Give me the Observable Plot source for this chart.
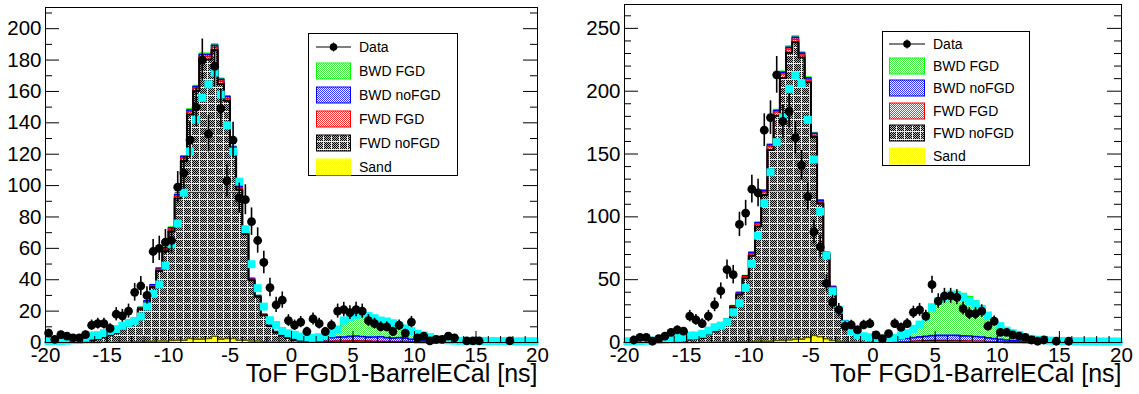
<!DOCTYPE html>
<html><head><meta charset="utf-8">
<script src="https://cdn.jsdelivr.net/npm/d3@7"></script>
<script src="https://cdn.jsdelivr.net/npm/@observablehq/plot@0.6"></script>
<style>
body{margin:0;background:#fff;font-family:"Liberation Sans",Arial,Helvetica,sans-serif;}
#wrap{position:relative;width:1139px;height:394px;overflow:hidden;background:#fff;}
.panel{position:absolute;top:0;}
.legend{position:absolute;border:1px solid #000;background:#fff;box-sizing:border-box;}
.entry{position:absolute;left:0;height:18px;font-size:14px;white-space:nowrap;color:#000;}
.entry svg{position:absolute;top:0;}
.entry span{position:absolute;top:0;line-height:18px;}
</style></head><body>
<svg width="0" height="0" style="position:absolute;left:0;top:0"><defs id="defs"></defs></svg>
<div id="wrap"></div>
<script>
// ---------------- data ----------------
const binCenters = d3.range(-19.75, 20, 0.5);
const binEdges = d3.range(-20, 20.001, 0.5);
const xMajorTicks = [-20,-15,-10,-5,0,5,10,15,20];
const xMinorTicks = d3.range(-20, 21, 1);
const seriesNames = ["Data","BWD FGD","BWD noFGD","FWD FGD","FWD noFGD","Sand"];
const axisTitle = "ToF FGD1-BarrelECal [ns]";

// Left panel
const leftYTicks = [0,20,40,60,80,100,120,140,160,180,200];
const leftYMinor = [10,30,50,70,90,110,130,150,170,190,210];
const leftData = [6,2,5,4,3,3,5,11,12,12, 9,18,17,20,32,36,30,58,60,64,
  65,99,108,129,150,180,133,176,149,103, 129,92,91,77,65,51,35,24,27,14,
  11,13,7,15,12,7,11,20,21,19, 21,20,14,12,10,10,7,11,6,13,
  3,4,1,2,2,4,3,0,1,1, 1,0,0,0,0,1,0,0,0,0];
const leftCyan = [1,1,1,1.2,1.5,2,3,4.5,4.7,6, 7.4,8.5,10.6,12.5,13.8,16.6,23,31,37,49,
  62.6,75.8,95.5,121.7,142,156,164.5,172,158,138.4, 121.7,102.5,72.2,49.9,34.6,22.9,14.2,11.2,7.4,5.9,
  4.9,3.8,3.4,3,3.4,4.5,6,8.3,14,16, 17.6,18.6,17,15.5,14,13.4,12.3,10.6,9,7.2,
  5.5,4.5,3.4,2.3,1.7,1.4,1.2,1.1,1,1, 1,1,0.9,0.9,0.9,0.9,0.8,0.8,0.8,0.8];
const leftSand = [0,0,0,0,0,0,0,0,0,0.1, 0.2,0.2,0.3,0.3,0.5,0.5,0.6,0.8,1,1,
  1.2,1.5,1.5,2.5,2,2,2.5,4,2,2.5, 2.5,1.5,1.5,1,1,0.5,0.3,0.2,0.2,0.2,
  0.1,0.1,0.1,0.1,0.2,0.2,0.2,0.3,0.3,0.3, 0.3,0.3,0.2,0.2,0.2,0.2,0.2,0.2,0.3,0.2,
  0.1,0.1,0,0,0,0,0,0,0,0, 0,0,0,0,0,0,0,0,0,0];
const leftFwdNoFGD = [0,0,0,0,0,0.2,0.5,1.3,2.2,3.1, 4.4,5.8,8.1,10.4,14.2,20.7,24.7,34.4,44.6,57.2,
  69.6,90.3,114.2,142.8,158.3,178.3,177.8,182.2,162.7,151.5, 119.4,95.9,67.6,38.7,28.1,16.8,10.1,6.2,4.2,2.6,
  1.5,0.8,0.5,0.4,0.3,0.3,0.3,0.2,0.2,0.2, 0.2,0.2,0.2,0.1,0.1,0.1,0.1,0.1,0.1,0.1,
  0,0,0,0,0,0,0,0,0,0, 0,0,0,0,0,0,0,0,0,0];
const leftFwdFGD = [0,0,0,0,0,0,0.1,0.1,0.2,0.2, 0.2,0.3,0.3,0.4,0.5,0.6,0.7,0.9,1,1.3,
  1.5,1.6,1.8,1.8,1.8,2,2,2,1.9,1.6, 1.4,1.2,1,0.6,0.4,0.3,0.2,0.2,0.1,0.1,
  0.1,0.1,0.1,0.1,0.1,0.2,0.3,0.4,0.5,0.6, 0.6,0.5,0.5,0.4,0.4,0.3,0.3,0.3,0.2,0.2,
  0.2,0.1,0.1,0,0,0,0,0,0,0, 0,0,0,0,0,0,0,0,0,0];
const leftBwdNoFGD = [0,0,0,0,0,0,0,0.1,0.1,0.1, 0.2,0.2,0.2,0.3,0.4,0.5,0.6,0.6,0.7,0.8,
  0.8,0.8,1,1.1,1,1.2,1.2,1.2,1.2,1.2, 1.2,1,0.6,0.5,0.4,0.3,0.3,0.3,0.4,0.5,
  0.6,0.8,1,1.2,1.5,2,2.2,2.5,2.5,2.8, 3,2.8,2.5,2.8,3,2.5,2.2,2.5,2.2,1.5,
  1.4,1.2,0.8,0.6,0.4,0.3,0.2,0.1,0,0, 0,0,0,0,0,0,0,0,0,0];
const leftBwdFGD = [0,0,0,0,0,0,0,0,0,0, 0,0,0.1,0.1,0.1,0.2,0.2,0.3,0.3,0.4,
  0.4,0.5,0.5,0.6,0.6,0.8,0.8,0.8,0.6,0.5, 0.5,0.4,0.3,0.2,0.1,0.1,0.1,0.1,0.1,0.1,
  0.2,0.4,0.5,1,1.4,2.3,3.5,5.6,10.5,12.1, 12.9,13.2,12.1,10,8.3,8.4,7.2,5.4,4.2,3.5,
  2.8,2.1,1.6,1.4,1.1,0.7,0.6,0.5,0.5,0.4, 0.4,0.3,0.2,0.2,0.2,0.2,0.1,0.1,0.1,0.1];
const leftHalfMax = {y: 95.7, x1: -9.45, x2: -4.15};

// Right panel
const rightYTicks = [0,50,100,150,200,250];
const rightYMinor = [10,20,30,40,60,70,80,90,110,120,130,140,160,170,180,190,210,220,230,240,260];
const rightData = [0,2,4,4,1,3,5,8,10,9, 21,18,15,21,30,41,58,54,94,103,
  122,119,169,179,213,176,184,163,141,116, 88,76,47,32,26,13,14,10,14,15,
  6,3,7,15,12,15,24,26,21,46, 33,37,37,36,27,23,23,25,13,17,
  8,8,6,5,4,2,1,2,0,1, 0,1,0,0,0,0,0,0,0,0];
const rightCyan = [1,1,1.2,1.4,1.6,2,2.5,3,3.7,4.2, 5.6,5.6,6.9,9.5,12.2,13.5,16.2,24,31.3,43.5,
  62.6,85,110.9,135.5,159.4,179.3,201.9,212.5,206.4,177.2, 145.6,104.2,69.2,40.8,26,14.5,9,6,5,4.2,
  3.5,2.9,2.9,3.7,5.6,7.4,10.9,14.3,20.2,28.1, 32.9,36.1,38.2,37.4,36.1,32.9,30.3,26.8,21.5,16.2,
  13,9.5,7.4,6.1,4.2,2.9,2.2,1.8,1.5,1.3, 1.2,1.1,1,1,0.9,0.9,0.8,0.8,0.8,0.8];
const rightSand = [0,0,0,0,0,0,0,0,0,0, 0,0,0.1,0.2,0.3,0.3,0.4,0.5,0.6,0.7,
  0.8,0.9,1,1,1.5,1.5,2,2.5,2.5,4, 5.5,4.5,3,1.5,1,0.6,0.4,0.3,0.2,0.2,
  0.2,0.2,0.2,0.2,0.3,0.3,0.4,0.5,0.6,0.7, 0.8,0.8,0.8,0.8,0.7,0.6,0.5,0.5,0.4,0.3,
  0.3,0.2,0.2,0.1,0.1,0,0,0,0,0, 0,0,0,0,0,0,0,0,0,0];
const rightFwdNoFGD = [0,0,0,0,0,0.3,0.6,0.8,1.3,1.8, 2.3,2.8,3.5,6.1,8.4,12.7,17.2,27.4,37.4,50.2,
  68.2,91.4,116.3,152.3,178.9,209,228.6,236.4,224.3,203.2, 158,106.2,66.9,41.7,23.2,15.6,9,4.9,3.3,2,
  0.9,0.3,0.1,0.1,0.1,0.1,0.2,0.3,0.3,0.4, 0.2,0.2,0.1,0,0,0,0,0,0,0,
  0,0,0,0,0,0,0,0,0,0, 0,0,0,0,0,0,0,0,0,0];
const rightFwdFGD = [0,0,0,0,0,0,0,0.1,0.1,0.1, 0.1,0.1,0.2,0.3,0.4,0.5,0.6,0.8,1,1.3,
  1.6,2,2.5,2.8,3,3.2,3,2.5,2,1.8, 1.5,1.2,0.8,0.6,0.4,0.3,0.2,0.2,0.1,0.1,
  0.1,0.1,0.1,0.1,0.2,0.2,0.3,0.4,0.5,0.6, 0.7,0.7,0.7,0.7,0.6,0.6,0.5,0.4,0.3,0.3,
  0.2,0.2,0.1,0.1,0,0,0,0,0,0, 0,0,0,0,0,0,0,0,0,0];
const rightBwdNoFGD = [0,0,0,0,0,0,0,0.1,0.1,0.1, 0.1,0.1,0.2,0.2,0.3,0.4,0.5,0.6,0.7,0.8,
  0.9,1,1.1,1.2,1.2,1.3,1.4,1.5,1.5,1.6, 1.5,1.2,0.9,0.7,0.6,0.7,0.8,1,1.2,1.4,
  1.6,1.6,1.8,2,2.3,2.6,3,3.3,3.5,3.8, 4,4,4.2,4.2,4,4,3.8,3.5,3,2.5,
  2,1.6,1.2,1,0.7,0.5,0.4,0.3,0.2,0.2, 0.1,0.1,0.1,0.1,0,0,0,0,0,0];
const rightBwdFGD = [0,0,0,0,0,0,0,0,0,0, 0,0,0,0.1,0.1,0.1,0.2,0.2,0.3,0.3,
  0.4,0.5,0.6,0.7,0.8,0.8,1,1,0.8,0.6, 0.5,0.4,0.3,0.3,0.3,0.3,0.5,0.6,0.7,0.8,
  1,1.1,1.1,1.6,2.7,4.2,7,9.8,15.3,22.6, 27.2,30.4,33.2,34.8,33.7,31.3,28.2,23.6,18.3,13.4,
  10.5,7.5,6,4.8,3.7,2.5,1.8,1.5,1.2,1, 0.9,0.7,0.5,0.4,0.4,0.3,0.2,0.2,0.1,0.1];
const rightHalfMax = {y: 120.8, x1: -9.0, x2: -4.5};

// ---------------- fill patterns (ROOT-like dotted hatches) ----------------
const defs = d3.select("#defs");
function checkerPattern(id, color, bg, size, gridColor){
  const p = defs.append("pattern").attr("id", id).attr("patternUnits","userSpaceOnUse")
    .attr("width", size).attr("height", size);
  p.append("rect").attr("width", size).attr("height", size).attr("fill", bg);
  const n = gridColor ? size - 1 : size;
  for (let i = 0; i < n; i++) for (let j = 0; j < n; j++)
    if ((i + j) % 2 === 0) p.append("rect").attr("x", i).attr("y", j).attr("width",1).attr("height",1).attr("fill", color);
  if (gridColor){
    p.append("rect").attr("x", size-1).attr("y",0).attr("width",1).attr("height",size).attr("fill",gridColor);
    p.append("rect").attr("x", 0).attr("y",size-1).attr("width",size).attr("height",1).attr("fill",gridColor);
  }
}
checkerPattern("pK", "#000000", "#b4b4b4", 8, "#eeeeee");
checkerPattern("pG", "#44f044", "#ffffff", 4, null);
checkerPattern("pB", "#3030ff", "#ffffff", 4, null);
checkerPattern("pR", "#ff3030", "#ffffff", 4, null);
checkerPattern("pY", "#ffff00", "#ffffff", 4, null);

const layerStyles = [ // bottom -> top of the stack
  {pat:"pY", stroke:"#5a5a00", w:1.5},
  {pat:"pK", stroke:"#000000", w:2},
  {pat:"pR", stroke:"#ff0000", w:1.6},
  {pat:"pB", stroke:"#0000ff", w:1.6},
  {pat:"pG", stroke:"#00ff00", w:1.6}
];
const legendStyles = [null, {pat:"pG", stroke:"#00ff00"}, {pat:"pB", stroke:"#0000ff"},
  {pat:"pR", stroke:"#ff0000"}, {pat:"pK", stroke:"#000000"}, {pat:"pY", stroke:"#ffff00"}];

function drawPanel(cfg){
  const layers = [cfg.sand, cfg.fwdNo, cfg.fwdFGD, cfg.bwdNo, cfg.bwdFGD];
  const cums = [];
  let acc = binCenters.map(() => 0);
  for (const a of layers){ acc = acc.map((v,i) => v + a[i]); cums.push(acc); }
  const stepRows = arr => binEdges.map((x,i) => ({x, y: arr[Math.min(i, arr.length-1)]}));
  const innerW = cfg.width - cfg.mL - cfg.mR;
  const innerH = cfg.height - cfg.mT - cfg.mB;
  const marks = [];
  for (let k = 4; k >= 0; k--)
    marks.push(Plot.areaY(stepRows(cums[k]), {x:"x", y:"y", curve:"step-after", fill:`url(#${layerStyles[k].pat})`}));
  marks.push(Plot.ruleY([cfg.half], {y:"y", x1:"x1", x2:"x2", stroke:"#333", strokeWidth:1}));
  for (let k = 4; k >= 0; k--)
    marks.push(Plot.lineY(stepRows(cums[k]), {x:"x", y:"y", curve:"step-after", stroke:layerStyles[k].stroke, strokeWidth:layerStyles[k].w}));
  const cyanRows = binCenters.map((x,i) => ({x, y: cfg.cyan[i]}));
  marks.push(Plot.dot(cyanRows, {x:"x", y:"y", symbol:"square", r:4.5, fill:"#00ffff", stroke:"none"}));
  const dataRows = binCenters.map((x,i) => ({x, y: cfg.data[i]})).filter(d => d.y > 0);
  marks.push(Plot.ruleX(dataRows, {x:"x", y1: d => d.y - Math.sqrt(d.y), y2: d => d.y + Math.sqrt(d.y), stroke:"#000", strokeWidth:1.6}));
  marks.push(Plot.dot(dataRows, {x:"x", y:"y", r:4.4, fill:"#000", stroke:"none"}));
  // inward ticks (ROOT style)
  marks.push(Plot.tickX(xMajorTicks, {x: d => d, insetTop: innerH - 11, stroke:"#000"}));
  marks.push(Plot.tickX(xMinorTicks, {x: d => d, insetTop: innerH - 6, stroke:"#000"}));
  marks.push(Plot.tickY(cfg.yTicks, {y: d => d, insetRight: innerW - 14, stroke:"#000"}));
  marks.push(Plot.tickY(cfg.yMinor, {y: d => d, insetRight: innerW - 7, stroke:"#000"}));
  marks.push(Plot.tickY(cfg.yTicks, {y: d => d, insetLeft: innerW - 14, stroke:"#000"}));
  marks.push(Plot.tickY(cfg.yMinor, {y: d => d, insetLeft: innerW - 7, stroke:"#000"}));
  marks.push(Plot.axisX({ticks: xMajorTicks, tickSize: 0, tickPadding: 5, label: null, tickFormat: d => d, fontSize: 20.5}));
  marks.push(Plot.axisY({ticks: cfg.yTicks, tickSize: 0, tickPadding: 4, label: null, tickFormat: d => d, fontSize: 20.5}));
  marks.push(Plot.frame({stroke:"#000", strokeWidth:1}));
  marks.push(Plot.text([axisTitle], {frameAnchor:"bottom-right", textAnchor:"end", dy: 39, fontSize: 25, fill:"#000"}));
  const svg = Plot.plot({
    width: cfg.width, height: cfg.height,
    marginLeft: cfg.mL, marginRight: cfg.mR, marginTop: cfg.mT, marginBottom: cfg.mB,
    x: {domain: [-20, 20], label: null},
    y: {domain: [0, cfg.yMax], label: null},
    style: {fontFamily: "'Liberation Sans', Arial, Helvetica, sans-serif", fontSize: "20.5px", color: "#000", background: "#fff", overflow: "visible"},
    marks
  });
  const div = document.createElement("div");
  div.className = "panel";
  div.style.left = cfg.left + "px";
  div.appendChild(svg);
  document.getElementById("wrap").appendChild(div);

  // legend
  const lg = document.createElement("div");
  lg.className = "legend";
  Object.assign(lg.style, {left: cfg.leg.x + "px", top: cfg.leg.y + "px", width: cfg.leg.w + "px", height: cfg.leg.h + "px"});
  seriesNames.forEach((name, i) => {
    const e = document.createElement("div");
    e.className = "entry";
    e.style.top = (cfg.leg.first + i * cfg.leg.step - 9) + "px";
    e.style.width = "100%";
    const sw = d3.create("svg").attr("width", cfg.leg.sw).attr("height", 18).style("left", cfg.leg.sx + "px");
    if (i === 0){
      sw.append("line").attr("x1",0).attr("x2",cfg.leg.sw).attr("y1",9).attr("y2",9).attr("stroke","#000").attr("stroke-width",1);
      sw.append("line").attr("x1",cfg.leg.sw/2).attr("x2",cfg.leg.sw/2).attr("y1",4.5).attr("y2",13.5).attr("stroke","#000").attr("stroke-width",1.2);
      sw.append("circle").attr("cx",cfg.leg.sw/2).attr("cy",9).attr("r",3.8).attr("fill","#000");
    } else {
      const s = legendStyles[i];
      sw.append("rect").attr("x",0.5).attr("y",1).attr("width",cfg.leg.sw-1).attr("height",16).attr("fill",`url(#${s.pat})`).attr("stroke",s.stroke).attr("stroke-width",1);
    }
    e.appendChild(sw.node());
    const t = document.createElement("span");
    t.textContent = name;
    t.style.left = cfg.leg.tx + "px";
    e.appendChild(t);
    lg.appendChild(e);
  });
  document.getElementById("wrap").appendChild(lg);
}

drawPanel({left:0, width:570, height:394, mL:45, mR:33, mT:7, mB:52, yMax:213.5,
  yTicks:leftYTicks, yMinor:leftYMinor, data:leftData, cyan:leftCyan,
  sand:leftSand, fwdNo:leftFwdNoFGD, fwdFGD:leftFwdFGD, bwdNo:leftBwdNoFGD, bwdFGD:leftBwdFGD, half:leftHalfMax,
  leg:{x:308, y:33, w:150, h:143, first:13, step:23.9, sx:7, sw:35, tx:50}});
drawPanel({left:570, width:569, height:394, mL:54, mR:18, mT:4, mB:52, yMax:269,
  yTicks:rightYTicks, yMinor:rightYMinor, data:rightData, cyan:rightCyan,
  sand:rightSand, fwdNo:rightFwdNoFGD, fwdFGD:rightFwdFGD, bwdNo:rightBwdNoFGD, bwdFGD:rightBwdFGD, half:rightHalfMax,
  leg:{x:882, y:31, w:148, h:135, first:11.5, step:22.4, sx:6, sw:36, tx:50}});
</script>
</body></html>
